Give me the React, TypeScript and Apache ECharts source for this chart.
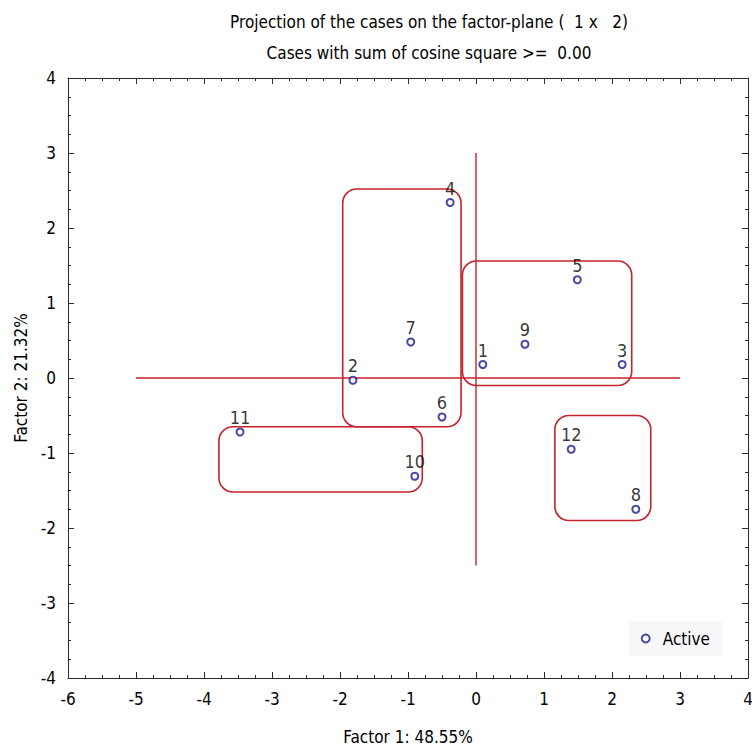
import React, { useEffect, useRef } from "react";
import * as echarts from "echarts";

const caseLabels = ["1", "2", "3", "4", "5", "6", "7", "8", "9", "10", "11", "12"];
const factor1 = [0.1, -1.81, 2.15, -0.38, 1.49, -0.5, -0.96, 2.35, 0.72, -0.9, -3.47, 1.4];
const factor2 = [0.18, -0.03, 0.18, 2.34, 1.31, -0.52, 0.48, -1.75, 0.45, -1.31, -0.72, -0.95];

// group boxes: [xMin, xMax, yMin, yMax]
const boxXMin = [-1.96, -0.2, -3.78, 1.16];
const boxXMax = [-0.22, 2.29, -0.79, 2.57];
const boxYMin = [-0.65, -0.1, -1.52, -1.9];
const boxYMax = [2.52, 1.56, -0.65, -0.5];

const hLine = [[-5, 0], [3, 0]];
const vLine = [[0, 3], [0, -2.5]];

const xTicks = { min: -6, max: 4, interval: 1 };
const yTicks = { min: -4, max: 4, interval: 1 };

const FONT = "'Liberation Sans Narrow', 'Arial Narrow', 'DejaVu Sans Condensed', 'Liberation Sans', sans-serif";
const RED = "#c4232d";
const AXIS = "#2a2a2a";

export default function App() {
  const ref = useRef<HTMLDivElement>(null);
  useEffect(() => {
    if (!ref.current) return;
    const chart = echarts.init(ref.current, undefined, { renderer: "svg" });
    const points = factor1.map((x, i) => [x, factor2[i], caseLabels[i]]);
    const boxes = boxXMin.map((x0, i) => [x0, boxXMax[i], boxYMin[i], boxYMax[i]]);
    const tickCommon = {
      axisLine: { show: true, onZero: false, lineStyle: { color: AXIS, width: 1 } },
      axisTick: { show: true, inside: true, length: 6, lineStyle: { color: AXIS } },
      minorTick: { show: true, splitNumber: 4, length: 3, lineStyle: { color: AXIS } },
      splitLine: { show: false },
      minorSplitLine: { show: false },
    };
    chart.setOption({
      animation: false,
      backgroundColor: "#ffffff",
      textStyle: { fontFamily: FONT },
      title: {
        text: "Projection of the cases on the factor-plane (  1 x   2)",
        subtext: "Cases with sum of cosine square >=  0.00",
        left: 424,
        top: 8,
        textAlign: "center",
        itemGap: 14,
        textStyle: { fontSize: 17, fontWeight: "normal", color: "#000", fontFamily: FONT },
        subtextStyle: { fontSize: 17, color: "#000", fontFamily: FONT },
      },
      legend: {
        data: ["Active"],
        right: 30,
        bottom: 94,
        orient: "vertical",
        backgroundColor: "#f8f8fb",
        padding: [9, 12, 9, 12],
        itemWidth: 8,
        itemHeight: 8,
        itemGap: 6,
        textStyle: { fontSize: 17, color: "#000", fontFamily: FONT, padding: [0, 0, 0, 8] },
      },
      grid: { left: 68, right: 4, top: 78, bottom: 72, containLabel: false, outerBoundsMode: "none" },
      xAxis: [
        {
          type: "value",
          ...xTicks,
          position: "bottom",
          ...tickCommon,
          name: "Factor 1: 48.55%",
          nameLocation: "middle",
          nameGap: 50,
          nameTextStyle: { fontSize: 17, color: "#000", fontFamily: FONT },
          axisLabel: { fontSize: 17, color: "#000", margin: 12, fontFamily: FONT, showMinLabel: true, showMaxLabel: true },
        },
        {
          type: "value",
          ...xTicks,
          position: "top",
          ...tickCommon,
          axisLabel: { show: false },
        },
      ],
      yAxis: [
        {
          type: "value",
          ...yTicks,
          position: "left",
          ...tickCommon,
          name: "Factor 2: 21.32%",
          nameLocation: "middle",
          nameGap: 38,
          nameTextStyle: { fontSize: 17, color: "#000", fontFamily: FONT },
          axisLabel: { fontSize: 17, color: "#000", margin: 12, fontFamily: FONT, showMinLabel: true, showMaxLabel: true },
        },
        {
          type: "value",
          ...yTicks,
          position: "right",
          ...tickCommon,
          axisLabel: { show: false },
        },
      ],
      series: [
        {
          type: "custom",
          name: "groups",
          clip: false,
          silent: true,
          data: boxes,
          renderItem: (params: any, api: any) => {
            const tl = api.coord([api.value(0), api.value(3)]);
            const br = api.coord([api.value(1), api.value(2)]);
            return {
              type: "rect",
              shape: { x: tl[0], y: tl[1], width: br[0] - tl[0], height: br[1] - tl[1], r: 14 },
              style: { fill: "none", stroke: RED, lineWidth: 1.6 },
            };
          },
          z: 1,
        },
        {
          type: "line",
          name: "h",
          data: hLine,
          symbol: "none",
          lineStyle: { color: RED, width: 1.4 },
          silent: true,
          z: 1,
        },
        {
          type: "line",
          name: "v",
          data: vLine,
          symbol: "none",
          lineStyle: { color: RED, width: 1.4 },
          silent: true,
          z: 1,
        },
        {
          type: "scatter",
          name: "Active",
          data: points,
          symbol: "emptyCircle",
          symbolSize: 7,
          itemStyle: { color: "#1c1c8a", borderWidth: 1.6 },
          label: {
            show: true,
            position: "top",
            distance: 1,
            formatter: (p: any) => p.value[2],
            fontSize: 18,
            color: "#000",
            fontFamily: FONT,
          },
          z: 3,
        },
      ],
    });
    return () => chart.dispose();
  }, []);
  return <div ref={ref} style={{ position: "fixed", left: 0, top: 0, width: 752, height: 750 }} />;
}
